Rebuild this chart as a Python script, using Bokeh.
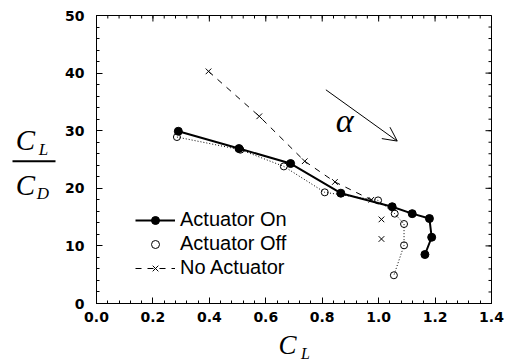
from bokeh.plotting import figure
from bokeh.layouts import row, column
from bokeh.models import (Range1d, Legend, LegendItem, Label, Arrow, OpenHead,
                          FixedTicker)
from bokeh.core.properties import value
from bokeh.embed import file_html
from bokeh.resources import INLINE

# ---- data ----
on_cl = [0.29, 0.505, 0.688, 0.866, 1.048, 1.119, 1.180, 1.188, 1.164]
on_ld = [29.9, 26.9, 24.3, 19.15, 16.8, 15.6, 14.75, 11.5, 8.5]

off_cl = [0.285, 0.51, 0.664, 0.809, 0.998, 1.057, 1.090, 1.090, 1.054]
off_ld = [28.9, 26.7, 23.8, 19.3, 17.9, 15.6, 13.8, 10.1, 4.9]

no_cl = [0.397, 0.577, 0.738, 0.845, 0.974, 1.01, 1.01]
no_ld = [40.3, 32.5, 24.7, 21.1, 18.0, 14.6, 11.2]

x_ticks = [0.0, 0.2, 0.4, 0.6, 0.8, 1.0, 1.2, 1.4]
y_ticks = [0, 10, 20, 30, 40, 50]
x_minor = [round(i * 0.04, 2) for i in range(36)]
y_minor = [i * 2 for i in range(26)]
series_names = ["Actuator On", "Actuator Off", "No Actuator"]

# ---- layout geometry ----
W, H = 513, 363
LEFT_W = 56
BOTTOM_H = 33
MAIN_W, MAIN_H = W - LEFT_W, H - BOTTOM_H
B_LEFT, B_RIGHT, B_TOP, B_BOTTOM = 40, 22, 15, 27
FRAME_W = MAIN_W - B_LEFT - B_RIGHT
FRAME_H = MAIN_H - B_TOP - B_BOTTOM
X0, X1, Y0, Y1 = 0, 1.4, 0, 50

p = figure(width=MAIN_W, height=MAIN_H, output_backend="svg", toolbar_location=None,
           x_range=Range1d(X0, X1), y_range=Range1d(Y0, Y1),
           min_border_left=B_LEFT, min_border_right=B_RIGHT, min_border_top=B_TOP,
           min_border_bottom=B_BOTTOM, background_fill_color="white",
           border_fill_color="white")
p.grid.visible = False
p.outline_line_color = "black"
p.outline_line_width = 1


def style_axis(ax, ticks, minor):
    ax.ticker = FixedTicker(ticks=ticks, minor_ticks=minor)
    ax.major_tick_in = 6
    ax.major_tick_out = 0
    ax.minor_tick_in = 3
    ax.minor_tick_out = 0
    ax.axis_line_color = "black"
    ax.major_tick_line_color = "black"
    ax.minor_tick_line_color = "black"
    ax.major_label_text_font = "DejaVu Sans"
    ax.major_label_text_font_style = "bold"
    ax.major_label_text_font_size = "14px"
    ax.major_label_text_color = "black"
    ax.major_label_standoff = 8


style_axis(p.xaxis[0], x_ticks, x_minor)
style_axis(p.yaxis[0], y_ticks, y_minor)
p.yaxis[0].major_label_standoff = 12
p.xaxis[0].major_label_overrides = {t: f"{t:.1f}" for t in x_ticks}

# mirrored inward ticks on top and right edges
xpu = (X1 - X0) / FRAME_W
ypu = (Y1 - Y0) / FRAME_H
p.segment(x0=x_ticks, y0=[Y1] * len(x_ticks), x1=x_ticks,
          y1=[Y1 - 6 * ypu] * len(x_ticks), line_color="black", line_width=1)
p.segment(x0=x_minor, y0=[Y1] * len(x_minor), x1=x_minor,
          y1=[Y1 - 3 * ypu] * len(x_minor), line_color="black", line_width=1)
p.segment(x0=[X1] * len(y_ticks), y0=y_ticks, x1=[X1 - 6 * xpu] * len(y_ticks),
          y1=y_ticks, line_color="black", line_width=1)
p.segment(x0=[X1] * len(y_minor), y0=y_minor, x1=[X1 - 3 * xpu] * len(y_minor),
          y1=y_minor, line_color="black", line_width=1)

# ---- series ----
off_line = p.line(off_cl, off_ld, line_color="black", line_width=1, line_dash="1 2")
off_pts = p.scatter(off_cl, off_ld, marker="circle", size=7, fill_alpha=0,
                    line_color="black", line_width=1)
no_line = p.line(no_cl[:5], no_ld[:5], line_color="black", line_width=1, line_dash="6 6")
no_pts = p.scatter(no_cl, no_ld, marker="x", size=8, line_color="black", line_width=1)
on_line = p.line(on_cl, on_ld, line_color="black", line_width=2)
on_pts = p.scatter(on_cl, on_ld, marker="circle", size=8, fill_color="black",
                   line_color="black")

legend = Legend(items=[
    LegendItem(label=series_names[0], renderers=[on_line, on_pts]),
    LegendItem(label=series_names[1], renderers=[off_pts]),
    LegendItem(label=series_names[2], renderers=[no_line, no_pts]),
], location=(39, 24))
legend.label_text_font = "Liberation Sans"
legend.label_text_font_size = "20px"
legend.label_text_color = "black"
legend.glyph_width = 40
legend.glyph_height = 20
legend.label_height = 23
legend.label_standoff = 5
legend.spacing = 1
legend.padding = 0
legend.margin = 0
legend.border_line_color = None
legend.background_fill_alpha = 0
p.add_layout(legend, "center")

# ---- alpha arrow ----
p.add_layout(Arrow(x_start=0.813, y_start=37.1, x_end=1.066, y_end=28.2,
                   line_color="black", line_width=1,
                   end=OpenHead(size=14, line_color="black", line_width=1)))
p.add_layout(Label(x=0.88, y=31.8, text="α", text_font="Liberation Serif",
                   text_font_style="italic", text_font_size="34px",
                   text_align="center", text_baseline="middle", text_color="black"))

# ---- y title panel (left) ----
serif = value("Liberation Serif")
ly = figure(width=LEFT_W, height=MAIN_H, output_backend="svg", toolbar_location=None,
            x_range=Range1d(0, LEFT_W), y_range=Range1d(MAIN_H, 0),
            min_border=0, x_axis_location=None, y_axis_location=None,
            outline_line_color=None, background_fill_color="white",
            border_fill_color="white")
ly.grid.visible = False
ly.text(x=[25, 25], y=[143, 194], text=["C", "C"], text_font=serif,
        text_font_style="italic", text_font_size="29px", text_align="center",
        text_baseline="middle", text_color="black")
ly.text(x=[43, 42.5], y=[154, 203.5], text=["L", "D"], text_font=serif,
        text_font_style="italic", text_font_size="17px", text_align="center",
        text_baseline="middle", text_color="black")
ly.segment(x0=[12], y0=[167], x1=[55], y1=[167], line_color="black", line_width=2)

# ---- x title panel (bottom) ----
bx = figure(width=W, height=BOTTOM_H, output_backend="svg", toolbar_location=None,
            x_range=Range1d(0, W), y_range=Range1d(BOTTOM_H, 0),
            min_border=0, x_axis_location=None, y_axis_location=None,
            outline_line_color=None, background_fill_color="white",
            border_fill_color="white")
bx.grid.visible = False
bx.text(x=[287], y=[14], text=["C"], text_font=serif, text_font_style="italic",
        text_font_size="27px", text_align="center", text_baseline="middle",
        text_color="black")
bx.text(x=[305], y=[23], text=["L"], text_font=serif, text_font_style="italic",
        text_font_size="16px", text_align="center", text_baseline="middle",
        text_color="black")

layout = column(row(ly, p, spacing=0), bx, spacing=0)
open("out.html", "w").write(file_html(layout, INLINE))
